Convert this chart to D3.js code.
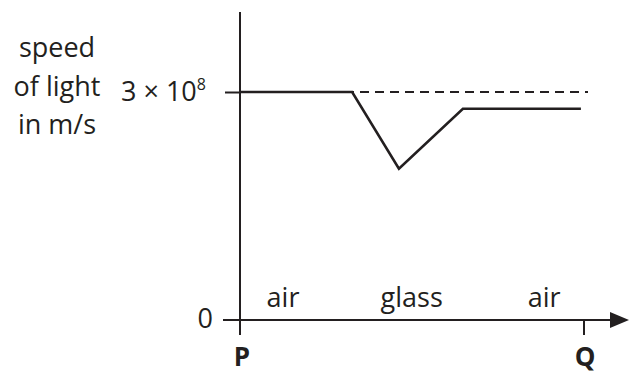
<!DOCTYPE html>
<html>
<head>
<meta charset="UTF-8" />
<title>speed of light</title>
<script src="https://d3js.org/d3.v7.min.js"></script>
<style>
body { margin: 0; background: #fff; }
svg text { font-family: "Open Sans", sans-serif; fill: #231f20; }
</style>
</head>
<body>
<div id="chart"></div>
<script>
// position along P -> Q (0 = P, 1 = Q)
var positions = [0, 0.326, 0.462, 0.648, 0.991];
var speeds = [3e8, 3e8, 1.99e8, 2.78e8, 2.78e8];
var yTicks = [0, 3e8];
var regions = ["air", "glass", "air"];
var regionPos = [0.125, 0.499, 0.884];
var ends = ["P", "Q"];
var title = ["speed", "of light", "in m/s"];

var width = 630, height = 374;
var ink = "#231f20";

var svg = d3.select("#chart").append("svg")
    .attr("width", width)
    .attr("height", height);

var x = d3.scaleLinear().domain([0, 1]).range([240, 584]);
var y = d3.scaleLinear().domain([0, 3e8]).range([320, 92]);

// dashed reference at c
svg.append("line")
    .attr("x1", x(0)).attr("x2", 588)
    .attr("y1", y(3e8)).attr("y2", y(3e8))
    .attr("stroke", ink).attr("stroke-width", 2.2)
    .attr("stroke-dasharray", "9,6");

// y axis
svg.append("line")
    .attr("x1", x(0)).attr("x2", x(0))
    .attr("y1", 12).attr("y2", 335)
    .attr("stroke", ink).attr("stroke-width", 2);

var yAxis = d3.axisLeft(y).tickValues([3e8]).tickSize(15).tickFormat("");
var gy = svg.append("g").attr("transform", "translate(" + x(0) + ",0)").call(yAxis);
gy.select(".domain").remove();
gy.selectAll("line").attr("stroke", ink).attr("stroke-width", 2);

// x axis with arrow
svg.append("line")
    .attr("x1", 223).attr("x2", 614)
    .attr("y1", y(0)).attr("y2", y(0))
    .attr("stroke", ink).attr("stroke-width", 2);
svg.append("path")
    .attr("d", "M610," + (y(0) - 8) + "L629," + y(0) + "L610," + (y(0) + 8) + "Z")
    .attr("fill", ink);
svg.append("line")
    .attr("x1", x(1)).attr("x2", x(1))
    .attr("y1", y(0)).attr("y2", 335)
    .attr("stroke", ink).attr("stroke-width", 2);

// tick labels
svg.append("text")
    .attr("x", 213).attr("y", y(yTicks[0]) + 8)
    .attr("text-anchor", "end")
    .attr("font-size", 27)
    .text(yTicks[0]);
var lab = svg.append("text")
    .attr("x", 121).attr("y", y(yTicks[1]) + 9)
    .attr("font-size", 27);
lab.append("tspan").text("3 \u00d7 10");
lab.append("tspan").attr("font-size", 16).attr("dy", -11).text("8");

// y title
svg.selectAll(".ytitle").data(title).enter().append("text")
    .attr("class", "ytitle")
    .attr("x", 57)
    .attr("y", function(d, i) { return [57, 96, 134][i]; })
    .attr("text-anchor", "middle")
    .attr("font-size", 27)
    .text(function(d) { return d; });

// region labels
svg.selectAll(".region").data(regions).enter().append("text")
    .attr("class", "region")
    .attr("x", function(d, i) { return x(regionPos[i]); })
    .attr("y", 307)
    .attr("text-anchor", "middle")
    .attr("font-size", 27)
    .text(function(d) { return d; });

// P and Q
svg.selectAll(".end").data(ends).enter().append("text")
    .attr("class", "end")
    .attr("x", function(d, i) { return x(i) + [2, 1][i]; })
    .attr("y", 366)
    .attr("text-anchor", "middle")
    .attr("font-size", 26)
    .attr("font-weight", "bold")
    .text(function(d) { return d; });

// speed line
var line = d3.line()
    .x(function(d, i) { return x(positions[i]); })
    .y(function(d) { return y(d); });
svg.append("path")
    .datum(speeds)
    .attr("d", line)
    .attr("fill", "none")
    .attr("stroke", ink)
    .attr("stroke-width", 2.6);
</script>
</body>
</html>
